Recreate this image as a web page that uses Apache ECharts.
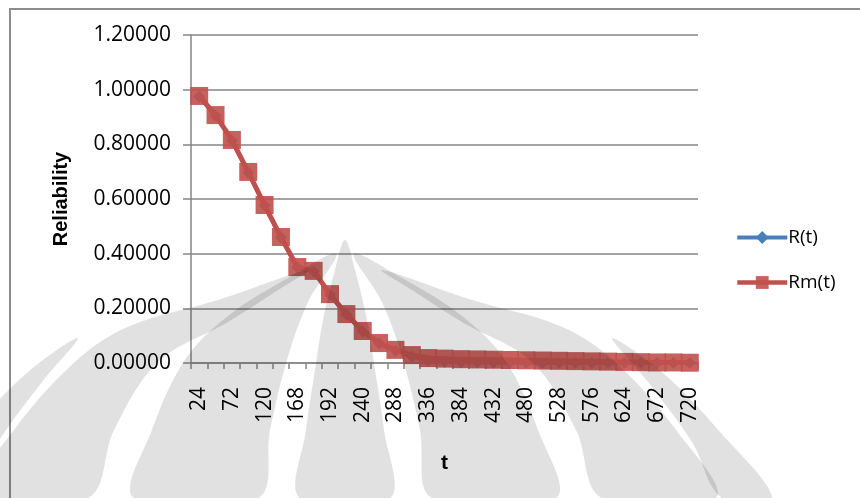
<!DOCTYPE html>
<html>
<head>
<meta charset="utf-8">
<script src="https://cdn.jsdelivr.net/npm/echarts@6/dist/echarts.min.js"></script>
<style>
  html, body { margin: 0; padding: 0; background: #ffffff; }
  #chart { width: 860px; height: 498px; }
</style>
</head>
<body>
<div id="chart"></div>
<script>
// Time points (hours)
const tValues = [24, 48, 72, 96, 120, 144, 168, 180, 192, 216, 240, 264, 288, 312, 336,
  360, 384, 408, 432, 456, 480, 504, 528, 552, 576, 600, 624, 648, 672, 696, 720];

// Reliability without maintenance
const rSeries = [0.975, 0.905, 0.814, 0.697, 0.576, 0.459, 0.349, 0.335, 0.250, 0.177,
  0.115, 0.071, 0.045, 0.024, 0.008, 0.005, 0.003, 0.002, 0.001, 0.001, 0.000, 0.000,
  0.000, 0.000, 0.000, 0.000, 0.000, 0.000, 0.000, 0.000, 0.000];

// Reliability with maintenance
const rmSeries = [0.977, 0.907, 0.816, 0.699, 0.578, 0.461, 0.351, 0.337, 0.252, 0.179,
  0.117, 0.073, 0.048, 0.029, 0.018, 0.016, 0.014, 0.013, 0.012, 0.011, 0.010, 0.009,
  0.008, 0.007, 0.006, 0.005, 0.004, 0.003, 0.002, 0.002, 0.001];

const yTicks = { min: 0, max: 1.2, step: 0.2 };

const FONT = '"Open Sans", "Noto Sans", sans-serif';
const AXIS_GRAY = '#868686';
const BLUE = '#4a7ebb';
const RED = '#c0504d';

// Faint emblem behind the page: symmetric petals around a central flame.
const EMBLEM_AXIS = 345;
const emblemRight = [
  // central flame (already symmetric)
  [[345,240],[355,270],[367,320],[375,370],[384,430],[390,498],[300,498],[306,430],[315,370],[323,320],[335,270]],
  // inner petal
  [[354,254],[382,302],[403,360],[420,430],[432,498],[556,498],[538,430],[505,360],[462,316],[402,278]],
  // middle petal
  [[382,270],[472,300],[560,326],[613,360],[676,430],[716,498],[602,498],[576,430],[532,362],[462,322],[412,290]],
  // outer petal
  [[612,338],[662,372],[720,432],[772,498],[722,498],[692,442],[648,382]]
];
function mirror(pts) { return pts.map(p => [2 * EMBLEM_AXIS - p[0], p[1]]); }
const emblemShapes = [emblemRight[0]];
emblemRight.slice(1).forEach(p => { emblemShapes.push(p, mirror(p)); });
const emblemGraphics = emblemShapes.map(pts => ({
  type: 'polygon',
  z: 100,
  silent: true,
  shape: { points: pts, smooth: 0.35 },
  style: { fill: '#e1e1e1', blend: 'multiply' }
}));

const chart = echarts.init(document.getElementById('chart'), null, { renderer: 'canvas' });

chart.setOption({
  backgroundColor: '#ffffff',
  animation: false,
  graphic: [
    {
      type: 'rect',
      z: -10,
      shape: { x: 10, y: 9, width: 880, height: 520 },
      style: { fill: 'none', stroke: '#8c8c8c', lineWidth: 2 }
    }
  ].concat(emblemGraphics),
  grid: { left: 191, right: 162, top: 35, bottom: 135, containLabel: false },
  legend: {
    orient: 'vertical',
    left: 730,
    top: 223,
    itemWidth: 50,
    itemHeight: 16,
    itemGap: 26,
    textStyle: { fontFamily: FONT, fontSize: 19, color: '#000000', padding: [0, 0, 0, -4] },
    data: [
      { name: 'R(t)', itemStyle: { color: BLUE }, lineStyle: { width: 4, color: BLUE } },
      { name: 'Rm(t)', itemStyle: { color: RED }, lineStyle: { width: 4.5, color: RED } }
    ]
  },
  xAxis: {
    type: 'category',
    data: tValues.map(String),
    boundaryGap: true,
    name: 't',
    nameLocation: 'middle',
    nameGap: 90,
    nameTextStyle: { fontFamily: 'Liberation Sans, Arial, sans-serif', fontWeight: 'bold', fontSize: 21, color: '#000' },
    axisLine: { lineStyle: { color: AXIS_GRAY, width: 1.5 } },
    axisTick: { show: true, interval: 0, length: 6, lineStyle: { color: AXIS_GRAY, width: 1.5 } },
    axisLabel: {
      interval: 1,
      rotate: 90,
      margin: 24,
      fontFamily: FONT,
      fontSize: 21,
      color: '#000000'
    },
    splitLine: { show: false }
  },
  yAxis: {
    type: 'value',
    min: yTicks.min,
    max: yTicks.max,
    interval: yTicks.step,
    name: 'Reliability',
    nameLocation: 'middle',
    nameGap: 120,
    nameRotate: 90,
    nameTextStyle: { fontFamily: 'Liberation Sans, Arial, sans-serif', fontWeight: 'bold', fontSize: 20, color: '#000' },
    axisLine: { show: true, lineStyle: { color: AXIS_GRAY, width: 1.5 } },
    axisTick: { show: true, inside: false, length: 8, lineStyle: { color: AXIS_GRAY, width: 1.5 } },
    axisLabel: {
      margin: 20,
      fontFamily: FONT,
      fontSize: 21,
      color: '#000000',
      formatter: v => v.toFixed(5)
    },
    splitLine: { show: true, lineStyle: { color: AXIS_GRAY, width: 1.5 } }
  },
  series: [
    {
      name: 'R(t)',
      type: 'line',
      data: rSeries,
      z: 2,
      symbol: 'diamond',
      symbolSize: 12,
      showAllSymbol: true,
      lineStyle: { color: BLUE, width: 4 },
      itemStyle: { color: BLUE }
    },
    {
      name: 'Rm(t)',
      type: 'line',
      data: rmSeries,
      z: 3,
      symbol: 'rect',
      symbolSize: 18,
      showAllSymbol: true,
      lineStyle: { color: RED, width: 5 },
      itemStyle: { color: RED, opacity: 0.9 }
    }
  ]
});
</script>
</body>
</html>
